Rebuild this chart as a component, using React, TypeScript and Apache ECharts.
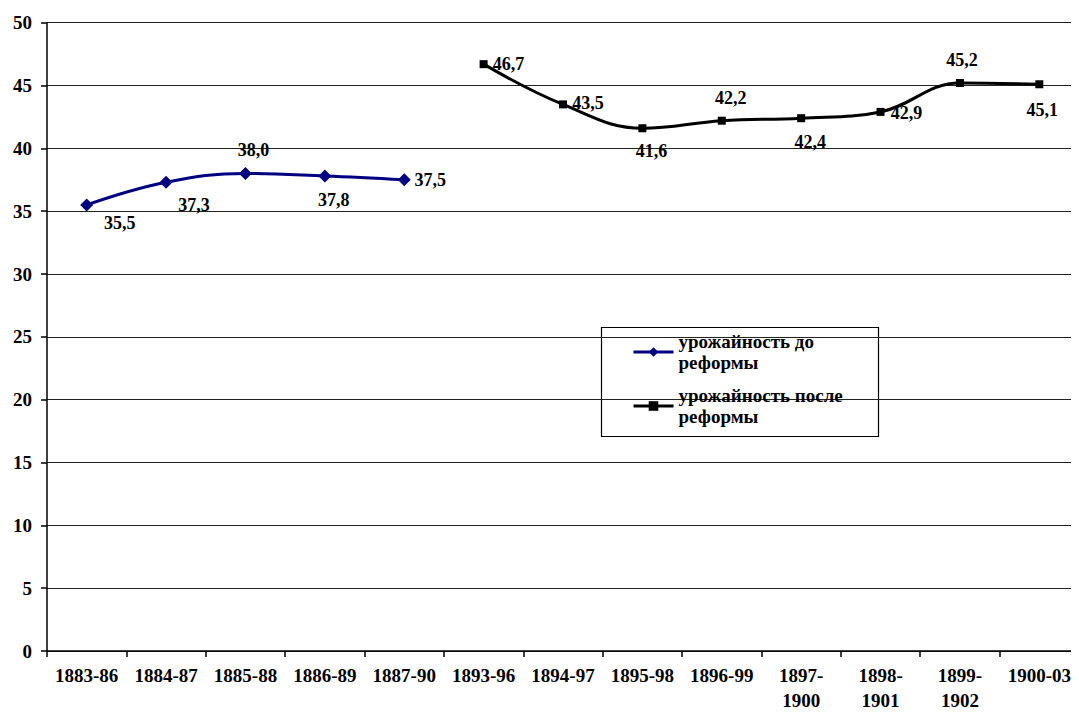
import React, { useEffect, useRef } from "react";
import * as echarts from "echarts";

const categories = [
  "1883-86", "1884-87", "1885-88", "1886-89", "1887-90", "1893-96", "1894-97",
  "1895-98", "1896-99", "1897-\n1900", "1898-\n1901", "1899-\n1902", "1900-03",
];
const beforeReform = [35.5, 37.3, 38.0, 37.8, 37.5, null, null, null, null, null, null, null, null];
const afterReform = [null, null, null, null, null, 46.7, 43.5, 41.6, 42.2, 42.4, 42.9, 45.2, 45.1];
const beforeOffsets: number[][] = [[33, 18], [28, 23], [8, -23], [9, 24], [26, 0]];
const afterOffsets: number[][] = [[25, 0], [25, -1], [9, 23], [9, -23], [9, 24], [26, 1], [2, -23], [3, 26]];
const beforeName = "урожайность до\nреформы";
const afterName = "урожайность после\nреформы";

const FONT = "Liberation Serif";

export default function App() {
  const ref = useRef<HTMLDivElement>(null);
  useEffect(() => {
    if (!ref.current) return;
    const chart = echarts.init(ref.current, null, { renderer: "svg" });
    const fmt = (p: any) => (typeof p.value === "number" ? p.value.toFixed(1).replace(".", ",") : "");
    let bi = 0;
    const bData = beforeReform.map((v) => {
      if (v === null) return null;
      const o = beforeOffsets[bi++];
      return { value: v, label: { offset: o } };
    });
    let ai = 0;
    const aData = afterReform.map((v) => {
      if (v === null) return null;
      const o = afterOffsets[ai++];
      return { value: v, label: { offset: o } };
    });
    const labelBase = {
      show: true,
      position: "inside",
      formatter: fmt,
      color: "#000",
      fontFamily: FONT,
      fontWeight: "bold",
      fontSize: 18,
    };
    chart.setOption({
      animation: false,
      backgroundColor: "#fff",
      grid: { left: 39, right: -4, top: 14.7, bottom: 64, containLabel: false },
      xAxis: {
        type: "category",
        data: categories,
        boundaryGap: true,
        axisLine: { lineStyle: { color: "#000", width: 1.5 } },
        axisTick: { show: true, length: 6, lineStyle: { color: "#000", width: 1.5 } },
        axisLabel: {
          color: "#000",
          fontFamily: FONT,
          fontWeight: "bold",
          fontSize: 19,
          margin: 12,
          lineHeight: 25,
          interval: 0,
        },
      },
      yAxis: {
        type: "value",
        min: 0,
        max: 50,
        interval: 5,
        axisLine: { show: true, lineStyle: { color: "#000", width: 1.5 } },
        axisTick: { show: true, length: 6, lineStyle: { color: "#000", width: 1.5 } },
        axisLabel: {
          color: "#000",
          fontFamily: FONT,
          fontWeight: "bold",
          fontSize: 19,
          margin: 15,
        },
        splitLine: { lineStyle: { color: "#222", width: 1.2 } },
      },
      legend: {
        orient: "vertical",
        left: 619,
        top: 318,
        itemWidth: 40,
        itemHeight: 12,
        itemGap: 12,
        lineStyle: { width: 3 },
        textStyle: {
          color: "#000",
          fontFamily: FONT,
          fontWeight: "bold",
          fontSize: 19,
          lineHeight: 21,
        },
        data: [beforeName, afterName],
      },
      graphic: [
        {
          type: "rect",
          shape: { x: 593.5, y: 319.5, width: 277, height: 109 },
          style: { fill: "#fff", stroke: "#000", lineWidth: 1.2 },
          z: 0,
          zlevel: 0,
        },
      ],
      series: [
        {
          name: beforeName,
          type: "line",
          data: bData,
          smooth: 0.4,
          connectNulls: false,
          symbol: "diamond",
          symbolSize: 13,
          lineStyle: { color: "#000080", width: 3 },
          itemStyle: { color: "#000080" },
          label: labelBase,
          z: 5,
        },
        {
          name: afterName,
          type: "line",
          data: aData,
          smooth: 0.4,
          connectNulls: false,
          symbol: "rect",
          symbolSize: 8,
          lineStyle: { color: "#000", width: 3 },
          itemStyle: { color: "#000" },
          label: labelBase,
          z: 5,
        },
      ],
    });
    return () => chart.dispose();
  }, []);
  return <div ref={ref} style={{ width: 1071, height: 707 }} />;
}
